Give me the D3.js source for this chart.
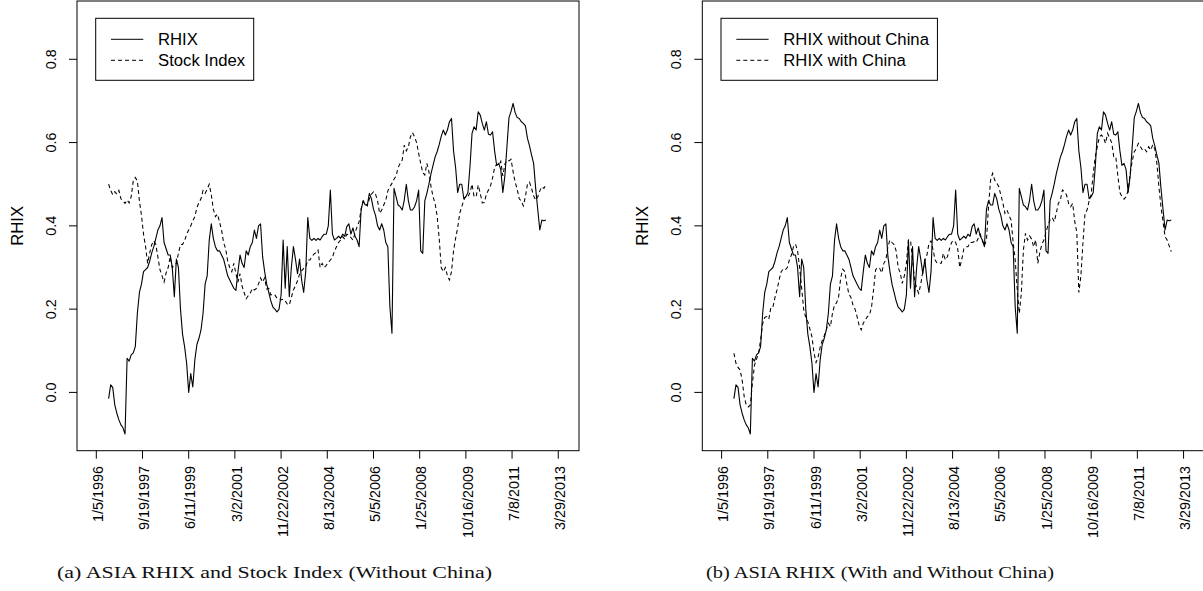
<!DOCTYPE html>
<html>
<head>
<meta charset="utf-8">
<script src="https://cdn.jsdelivr.net/npm/d3@7"></script>
<style>
  html, body { margin: 0; padding: 0; background: #fff; }
  svg { display: block; }
</style>
</head>
<body>
<svg id="fig" width="1203" height="591"></svg>
<script>
// Weekly observation index (0 = week of 1/5/1996); series sampled every 4 weeks
const weeks = d3.range(24, 877, 4);

// Date labels placed every 90 weekly observations
const tickWeeks = [0, 90, 180, 270, 360, 450, 540, 630, 720, 810, 900];
const tickLabels = ["1/5/1996", "9/19/1997", "6/11/1999", "3/2/2001", "11/22/2002",
  "8/13/2004", "5/5/2006", "1/25/2008", "10/16/2009", "7/8/2011", "3/29/2013"];
const yTicks = [0.0, 0.2, 0.4, 0.6, 0.8];

// ASIA RHIX without China
const rhix = [
  -0.015, 0.018, 0.012, -0.03, -0.05, -0.066, -0.078, -0.085, -0.1, 0.082,
  0.075, 0.09, 0.095, 0.11, 0.19, 0.24, 0.26, 0.29, 0.295, 0.30,
  0.315, 0.335, 0.35, 0.37, 0.39, 0.40, 0.42, 0.36, 0.345, 0.33,
  0.33, 0.30, 0.23, 0.32, 0.30, 0.20, 0.14, 0.11, 0.07, 0.0,
  0.045, 0.013, 0.078, 0.115, 0.13, 0.15, 0.19, 0.26, 0.28, 0.365,
  0.405, 0.37, 0.35, 0.34, 0.34, 0.33, 0.32, 0.30, 0.28, 0.27,
  0.26, 0.25, 0.245, 0.29, 0.33, 0.31, 0.30, 0.34, 0.33, 0.35,
  0.36, 0.39, 0.37, 0.40, 0.405, 0.326, 0.29, 0.26, 0.24, 0.22,
  0.205, 0.20, 0.193, 0.20, 0.234, 0.366, 0.25, 0.35, 0.23, 0.30,
  0.35, 0.32, 0.285, 0.32, 0.27, 0.24, 0.29, 0.42, 0.37, 0.365,
  0.37, 0.365, 0.37, 0.366, 0.374, 0.38, 0.38, 0.40, 0.486, 0.38,
  0.366, 0.37, 0.375, 0.37, 0.38, 0.375, 0.398, 0.405, 0.38, 0.395,
  0.375, 0.366, 0.35, 0.44, 0.46, 0.45, 0.45, 0.478, 0.465, 0.44,
  0.425, 0.40, 0.39, 0.405, 0.39, 0.36, 0.35, 0.205, 0.142, 0.49,
  0.47, 0.45, 0.446, 0.438, 0.462, 0.50, 0.46, 0.438, 0.438, 0.446,
  0.46, 0.486, 0.34, 0.334, 0.46, 0.478, 0.50, 0.525, 0.545, 0.565,
  0.578, 0.595, 0.615, 0.63, 0.618, 0.63, 0.65, 0.658, 0.58, 0.54,
  0.48, 0.50, 0.50, 0.465, 0.47, 0.48, 0.542, 0.622, 0.638, 0.63,
  0.674, 0.666, 0.646, 0.63, 0.65, 0.62, 0.618, 0.626, 0.58, 0.545,
  0.55, 0.535, 0.48, 0.52, 0.59, 0.66, 0.675, 0.694, 0.672, 0.66,
  0.658, 0.65, 0.646, 0.64, 0.61, 0.592, 0.57, 0.55, 0.49, 0.44,
  0.39, 0.414, 0.412, 0.414
];

// Stock index correlation
const stockIndex = [
  0.50, 0.485, 0.475, 0.482, 0.476, 0.485, 0.465, 0.46, 0.454, 0.462,
  0.455, 0.47, 0.508, 0.516, 0.508, 0.46, 0.425, 0.38, 0.35, 0.31,
  0.335, 0.355, 0.364, 0.355, 0.325, 0.295, 0.28, 0.265, 0.287, 0.30,
  0.326, 0.30, 0.305, 0.31, 0.334, 0.355, 0.355, 0.364, 0.38, 0.39,
  0.40, 0.412, 0.422, 0.444, 0.456, 0.465, 0.485, 0.478, 0.488, 0.50,
  0.475, 0.44, 0.422, 0.428, 0.41, 0.39, 0.36, 0.345, 0.315, 0.30,
  0.29, 0.31, 0.285, 0.265, 0.285, 0.255, 0.24, 0.225, 0.232, 0.238,
  0.25, 0.246, 0.25, 0.26, 0.275, 0.265, 0.275, 0.248, 0.25, 0.234,
  0.236, 0.234, 0.226, 0.226, 0.222, 0.224, 0.22, 0.212, 0.21, 0.228,
  0.246, 0.256, 0.268, 0.284, 0.292, 0.298, 0.30, 0.318, 0.318, 0.326,
  0.332, 0.336, 0.342, 0.30, 0.31, 0.30, 0.305, 0.312, 0.318, 0.324,
  0.34, 0.35, 0.36, 0.366, 0.374, 0.368, 0.38, 0.378, 0.372, 0.366,
  0.382, 0.398, 0.41, 0.44, 0.46, 0.454, 0.448, 0.465, 0.476, 0.482,
  0.476, 0.46, 0.43, 0.438, 0.45, 0.462, 0.484, 0.494, 0.502, 0.512,
  0.52, 0.54, 0.55, 0.558, 0.594, 0.58, 0.59, 0.614, 0.624, 0.614,
  0.60, 0.574, 0.55, 0.528, 0.522, 0.55, 0.53, 0.495, 0.47, 0.454,
  0.424, 0.37, 0.30, 0.29, 0.30, 0.28, 0.27, 0.29, 0.34, 0.37,
  0.395, 0.43, 0.446, 0.462, 0.472, 0.47, 0.48, 0.50, 0.47, 0.47,
  0.498, 0.478, 0.455, 0.456, 0.476, 0.486, 0.496, 0.515, 0.54, 0.548,
  0.545, 0.555, 0.52, 0.548, 0.558, 0.556, 0.56, 0.53, 0.505, 0.488,
  0.465, 0.46, 0.448, 0.47, 0.50, 0.505, 0.49, 0.472, 0.462, 0.47,
  0.484, 0.494, 0.49, 0.50
];

// ASIA RHIX with China
const rhixChina = [
  0.094, 0.07, 0.06, 0.054, 0.03, -0.01, -0.03, -0.035, -0.03, 0.022,
  0.065, 0.08, 0.094, 0.126, 0.165, 0.18, 0.182, 0.176, 0.204, 0.205,
  0.228, 0.246, 0.27, 0.29, 0.296, 0.294, 0.30, 0.318, 0.33, 0.35,
  0.356, 0.34, 0.30, 0.25, 0.198, 0.18, 0.17, 0.152, 0.134, 0.095,
  0.072, 0.085, 0.108, 0.125, 0.136, 0.15, 0.166, 0.158, 0.19, 0.21,
  0.215, 0.23, 0.275, 0.296, 0.29, 0.26, 0.236, 0.228, 0.21, 0.20,
  0.182, 0.16, 0.15, 0.166, 0.174, 0.182, 0.186, 0.204, 0.246, 0.294,
  0.30, 0.298, 0.287, 0.31, 0.318, 0.35, 0.366, 0.36, 0.355, 0.34,
  0.30, 0.287, 0.262, 0.28, 0.31, 0.366, 0.366, 0.318, 0.27, 0.25,
  0.238, 0.26, 0.29, 0.316, 0.33, 0.358, 0.364, 0.342, 0.318, 0.31,
  0.31, 0.31, 0.334, 0.318, 0.326, 0.345, 0.36, 0.365, 0.36, 0.345,
  0.30, 0.32, 0.345, 0.35, 0.35, 0.36, 0.36, 0.362, 0.36, 0.37,
  0.38, 0.365, 0.352, 0.366, 0.446, 0.51, 0.526, 0.51, 0.503, 0.494,
  0.474, 0.455, 0.43, 0.438, 0.425, 0.414, 0.36, 0.318, 0.246, 0.19,
  0.24, 0.342, 0.382, 0.366, 0.376, 0.368, 0.35, 0.366, 0.31, 0.336,
  0.356, 0.366, 0.385, 0.402, 0.414, 0.42, 0.41, 0.43, 0.454, 0.462,
  0.486, 0.482, 0.474, 0.454, 0.446, 0.454, 0.41, 0.385, 0.24, 0.28,
  0.36, 0.43, 0.438, 0.46, 0.475, 0.526, 0.566, 0.59, 0.614, 0.618,
  0.612, 0.598, 0.622, 0.61, 0.60, 0.566, 0.566, 0.52, 0.48, 0.47,
  0.464, 0.47, 0.485, 0.526, 0.556, 0.578, 0.586, 0.598, 0.59, 0.582,
  0.585, 0.578, 0.59, 0.582, 0.595, 0.585, 0.55, 0.494, 0.446, 0.41,
  0.374, 0.366, 0.352, 0.338
];

const panels = [
  {
    left: 77, solid: rhix, dashed: stockIndex,
    names: ["RHIX", "Stock Index"],
    caption: "(a) ASIA RHIX and Stock Index (Without China)",
    captionX: 57, captionW: 435
  },
  {
    left: 702.3, solid: rhix, dashed: rhixChina,
    names: ["RHIX without China", "RHIX with China"],
    caption: "(b) ASIA RHIX (With and Without China)",
    captionX: 706, captionW: 348
  }
];

const svg = d3.select("#fig");
svg.append("rect").attr("width", 1203).attr("height", 591).attr("fill", "#fff");

const plotW = 502, plotTop = 1, plotBottom = 450.7;
const sans = "'Liberation Sans', Arial, Helvetica, sans-serif";
const serif = "'Liberation Serif', 'Times New Roman', serif";

panels.forEach(p => {
  const g = svg.append("g");
  const x = d3.scaleLinear().domain([-37.6, 940.4]).range([p.left, p.left + plotW]);
  const y = d3.scaleLinear().domain([-0.14, 0.94]).range([plotBottom, plotTop]);

  const line = d3.line().x((d, i) => x(weeks[i])).y(d => y(d));

  g.append("path").datum(p.dashed)
    .attr("d", line).attr("fill", "none").attr("stroke", "#000")
    .attr("stroke-width", 1.05).attr("stroke-dasharray", "4,3");
  g.append("path").datum(p.solid)
    .attr("d", line).attr("fill", "none").attr("stroke", "#000")
    .attr("stroke-width", 1.1).attr("stroke-linejoin", "round");

  // plot frame
  g.append("rect")
    .attr("x", p.left).attr("y", plotTop)
    .attr("width", plotW).attr("height", plotBottom - plotTop)
    .attr("fill", "none").attr("stroke", "#000").attr("stroke-width", 1);

  // y axis
  yTicks.forEach(v => {
    g.append("line")
      .attr("x1", p.left - 8).attr("x2", p.left)
      .attr("y1", y(v)).attr("y2", y(v))
      .attr("stroke", "#000");
    g.append("text")
      .attr("transform", `translate(${p.left - 21.5},${y(v)}) rotate(-90)`)
      .attr("text-anchor", "middle")
      .attr("font-family", sans).attr("font-size", 14.4)
      .text(d3.format(".1f")(v));
  });
  g.append("text")
    .attr("transform", `translate(${p.left - 54},${(plotTop + plotBottom) / 2}) rotate(-90)`)
    .attr("text-anchor", "middle")
    .attr("font-family", sans).attr("font-size", 16.7)
    .text("RHIX");

  // x axis
  tickWeeks.forEach((w, i) => {
    g.append("line")
      .attr("x1", x(w)).attr("x2", x(w))
      .attr("y1", plotBottom).attr("y2", plotBottom + 8)
      .attr("stroke", "#000");
    g.append("text")
      .attr("transform", `translate(${x(w) + 6.7},466) rotate(-90)`)
      .attr("text-anchor", "end")
      .attr("font-family", sans).attr("font-size", 14.4)
      .text(tickLabels[i]);
  });

  // legend
  const lg = g.append("g");
  const bx = p.left + 18.7, by = 18.3, bh = 62;
  const rows = [{ y: 39.3, dash: null }, { y: 60.3, dash: "4,3" }];
  const frame = lg.append("rect")
    .attr("x", bx).attr("y", by).attr("height", bh)
    .attr("fill", "#fff").attr("stroke", "#000").attr("stroke-width", 1);
  let maxW = 0;
  rows.forEach((r, i) => {
    lg.append("line")
      .attr("x1", p.left + 34).attr("x2", p.left + 66.3)
      .attr("y1", r.y).attr("y2", r.y)
      .attr("stroke", "#000").attr("stroke-width", 1)
      .attr("stroke-dasharray", r.dash);
    const t = lg.append("text")
      .attr("x", p.left + 81).attr("y", r.y + 5.8)
      .attr("font-family", sans).attr("font-size", 16.7)
      .text(p.names[i]);
    maxW = Math.max(maxW, t.node().getComputedTextLength());
  });
  frame.attr("width", (p.left + 81 + maxW + 8.5) - bx);

  // caption under the panel
  svg.append("text")
    .attr("x", p.captionX).attr("y", 578.3)
    .attr("font-family", serif).attr("font-size", 16.6)
    .attr("fill", "#111")
    .attr("textLength", p.captionW).attr("lengthAdjust", "spacingAndGlyphs")
    .text(p.caption);
});
</script>
</body>
</html>
